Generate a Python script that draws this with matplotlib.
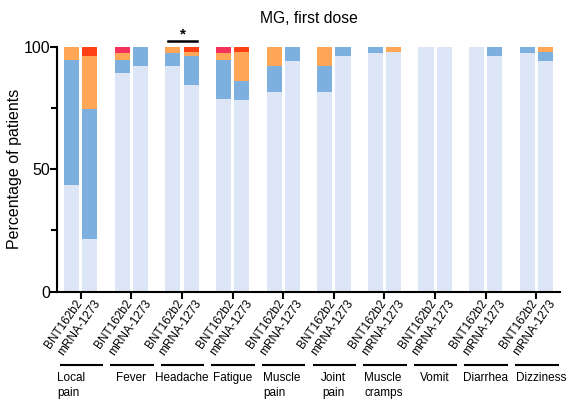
import matplotlib.pyplot as plt
import numpy as np
from matplotlib.transforms import ScaledTranslation

plt.rcParams['font.family'] = ['Liberation Sans', 'DejaVu Sans']

symptoms = ['Local\npain', 'Fever', 'Headache', 'Fatigue', 'Muscle\npain',
            'Joint\npain', 'Muscle\ncramps', 'Vomit', 'Diarrhea', 'Dizziness']
vaccines = ['BNT162b2', 'mRNA-1273']

# percentage of patients per grade: none, mild, moderate, severe
bnt_none = [43.5, 89.5, 92.1, 78.9, 81.6, 81.6, 97.4, 100, 100, 97.4]
bnt_mild = [51.3, 5.2, 5.2, 15.8, 10.6, 10.6, 2.6, 0, 0, 2.6]
bnt_moderate = [5.2, 2.6, 2.7, 2.6, 7.8, 7.8, 0, 0, 0, 0]
bnt_severe = [0, 2.7, 0, 2.7, 0, 0, 0, 0, 0, 0]

mrna_none = [21.6, 92.2, 84.3, 78.4, 94.1, 96.1, 98.0, 100, 96.1, 94.1]
mrna_mild = [52.9, 7.8, 11.8, 7.8, 5.9, 3.9, 0, 0, 3.9, 3.9]
mrna_moderate = [21.6, 0, 2.0, 11.8, 0, 0, 2.0, 0, 0, 2.0]
mrna_severe = [3.9, 0, 1.9, 2.0, 0, 0, 0, 0, 0, 0]

c_none = '#dde6f7'
c_mild = '#7eb0df'
c_moderate = '#ffa657'
c_severe = {'BNT162b2': '#f5325c', 'mRNA-1273': '#ff4015'}

fig = plt.figure(figsize=(5.71, 4.04), dpi=100)
ax = fig.add_axes([0.0998, 0.278, 0.881, 0.606])

x = np.arange(len(symptoms))
w = 0.3
off = 0.18
for xs, name, layers in [
        (x - off, 'BNT162b2', [bnt_none, bnt_mild, bnt_moderate, bnt_severe]),
        (x + off, 'mRNA-1273', [mrna_none, mrna_mild, mrna_moderate, mrna_severe])]:
    bottom = np.zeros(len(x))
    cols = [c_none, c_mild, c_moderate, c_severe[name]]
    for vals, col in zip(layers, cols):
        vals = np.array(vals)
        ax.bar(xs, vals, w, bottom=bottom, color=col, edgecolor='none')
        bottom += vals

ax.set_xlim(-0.47, 9.47)
ax.set_ylim(0, 100)
for s in ['top', 'right']:
    ax.spines[s].set_visible(False)
for s in ['left', 'bottom']:
    ax.spines[s].set_linewidth(1.5)
ax.set_yticks([0, 50, 100])
ax.set_yticks([25, 75], minor=True)
ax.set_yticklabels(['0', '50', '100'], fontsize=11.5)
ax.set_xticks(x)
ax.set_xticklabels([])
ax.tick_params(which='major', width=1.5, length=5, pad=0)
ax.tick_params(which='minor', width=1.5, length=4)
ax.set_ylabel('Percentage of patients', fontsize=11.5, labelpad=1)
ax.set_title('MG, first dose', fontsize=11.3, pad=17)

# rotated vaccine names under each bar
shift = ScaledTranslation(13 / 100, -6 / 100, fig.dpi_scale_trans)
for xs, name in [(x - off, vaccines[0]), (x + off, vaccines[1])]:
    for xi in xs:
        ax.text(xi, 0, name, rotation=55, ha='right', va='top', fontsize=8.5,
                transform=ax.get_xaxis_transform() + shift)

# group lines and symptom names
align = ['left', 'center', 'center', 'center', 'left',
         'center', 'left', 'center', 'center', 'left']
for xi, lab, ha in zip(x, symptoms, align):
    ax.plot([xi - 0.4, xi + 0.42], [-0.299, -0.299], color='black', lw=1.5,
            transform=ax.get_xaxis_transform(), clip_on=False)
    tx = xi - 0.4 if ha == 'left' else xi
    if xi == 0:
        tx = -0.47
    ax.text(tx, -0.33, lab, ha=ha, va='top', fontsize=8.5, linespacing=1.3,
            multialignment=ha, transform=ax.get_xaxis_transform())

# significance bracket over headache
ax.plot([2 - 0.27, 2 + 0.3], [102.4, 102.4], color='black', lw=1.8, clip_on=False)
ax.text(2.01, 102.2, '*', ha='center', va='bottom', fontsize=11, fontweight='bold')

fig.savefig('out.png', dpi=100)
